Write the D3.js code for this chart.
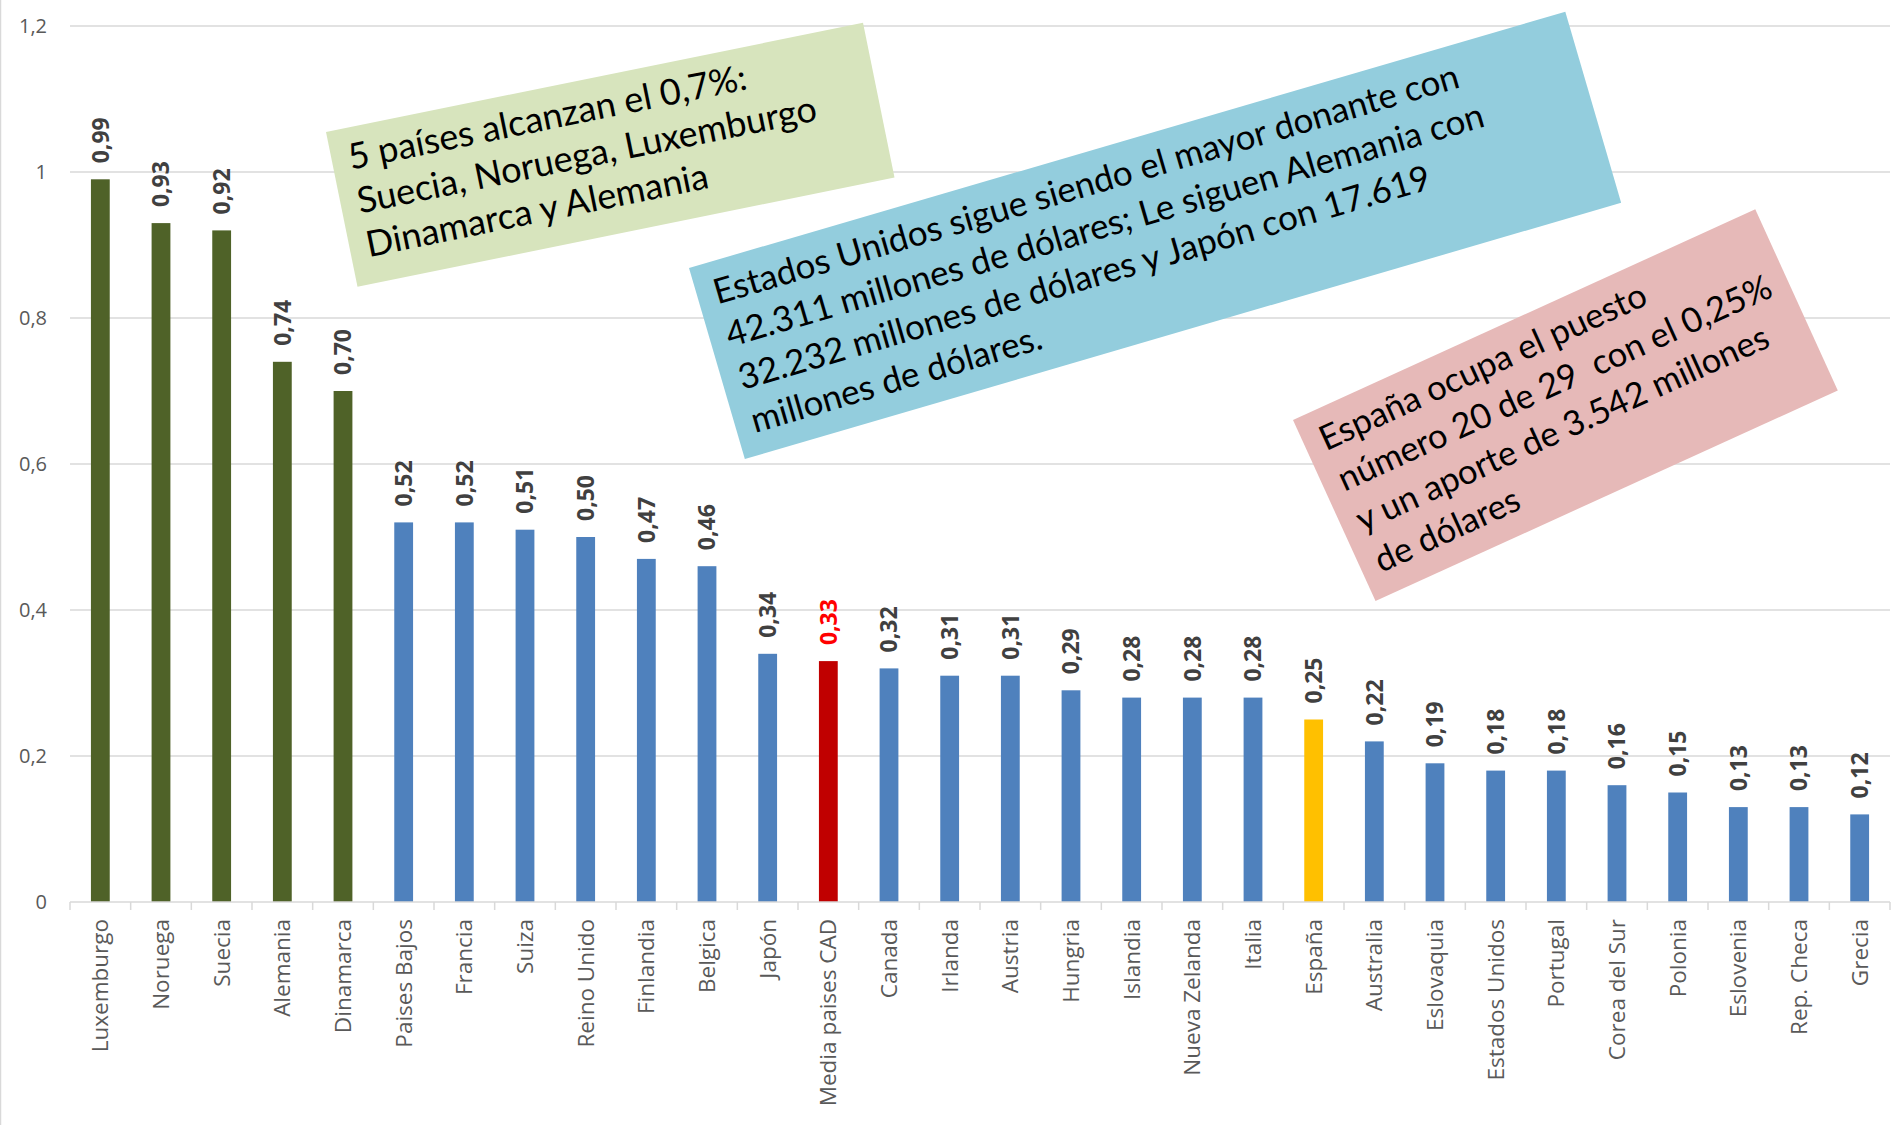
<!DOCTYPE html>
<html>
<head>
<meta charset="utf-8">
<script src="https://cdn.jsdelivr.net/npm/d3@7"></script>
<style>
  body { margin: 0; background: #fff; }
  svg { display: block; }
</style>
</head>
<body>
<div id="chart"></div>
<script>
// Chart data
var countries = ["Luxemburgo", "Noruega", "Suecia", "Alemania", "Dinamarca", "Paises Bajos", "Francia",
                 "Suiza", "Reino Unido", "Finlandia", "Belgica", "Japón", "Media paises CAD", "Canada",
                 "Irlanda", "Austria", "Hungria", "Islandia", "Nueva Zelanda", "Italia", "España",
                 "Australia", "Eslovaquia", "Estados Unidos", "Portugal", "Corea del Sur", "Polonia",
                 "Eslovenia", "Rep. Checa", "Grecia"];
var aodShare  = [0.99, 0.93, 0.92, 0.74, 0.70, 0.52, 0.52, 0.51, 0.50, 0.47, 0.46, 0.34, 0.33, 0.32,
                 0.31, 0.31, 0.29, 0.28, 0.28, 0.28, 0.25, 0.22, 0.19, 0.18, 0.18, 0.16, 0.15, 0.13,
                 0.13, 0.12];
// Bar group: "top" = reached 0,7%, "avg" = CAD average, "spain", otherwise "other"
var barGroup  = ["top", "top", "top", "top", "top", "other", "other", "other", "other", "other", "other",
                 "other", "avg", "other", "other", "other", "other", "other", "other", "other", "spain",
                 "other", "other", "other", "other", "other", "other", "other", "other", "other"];
var yTicks    = [0, 0.2, 0.4, 0.6, 0.8, 1, 1.2];

// Annotation notes
var noteGreen = ["5 países alcanzan el 0,7%:", "Suecia, Noruega, Luxemburgo", "Dinamarca y Alemania"];
var noteBlue  = ["Estados Unidos sigue siendo el mayor donante con",
                 "42.311 millones de dólares; Le siguen Alemania con",
                 "32.232 millones de dólares y Japón con 17.619",
                 "millones de dólares."];
var notePink  = ["España ocupa el puesto", "número 20 de 29  con el 0,25%",
                 "y un aporte de 3.542 millones", "de dólares"];

var width = 1895, height = 1125;
var colors = { top: "#4F6228", other: "#4F81BD", avg: "#C00000", spain: "#FFC000" };
var gridColor = "#D9D9D9";

function comma(s) { return s.replace(".", ","); }

var svg = d3.select("#chart").append("svg")
  .attr("width", width)
  .attr("height", height);

// chart border (only left side shows)
svg.append("line")
  .attr("x1", 0.5).attr("x2", 0.5).attr("y1", 0).attr("y2", height)
  .style("stroke", gridColor).style("stroke-width", 1.5);

var x = d3.scaleBand()
  .domain(countries)
  .range([70, 1890])
  .paddingInner(0.69)
  .paddingOuter(0.345);

var y = d3.scaleLinear()
  .domain([0, 1.2])
  .range([902, 26]);

// gridlines
svg.append("g")
  .selectAll("line")
  .data(yTicks.filter(function(d) { return d > 0; }))
  .enter().append("line")
    .attr("x1", 70).attr("x2", 1890)
    .attr("y1", function(d) { return y(d); })
    .attr("y2", function(d) { return y(d); })
    .style("stroke", gridColor).style("stroke-width", 1.5);

// y axis labels
var yAxis = svg.append("g")
  .attr("transform", "translate(56,0)")
  .call(d3.axisLeft(y).tickValues(yTicks).tickSize(0).tickPadding(9)
          .tickFormat(function(d) { return comma(String(d)); }));
yAxis.select(".domain").remove();
yAxis.selectAll("text")
  .style("font-family", "'Open Sans', sans-serif")
  .style("font-size", "20px")
  .style("fill", "#595959");

// bars
svg.append("g")
  .selectAll("rect")
  .data(countries)
  .enter().append("rect")
    .attr("x", function(d) { return x(d); })
    .attr("width", x.bandwidth())
    .attr("y", function(d, i) { return y(aodShare[i]); })
    .attr("height", function(d, i) { return y(0) - y(aodShare[i]); })
    .style("fill", function(d, i) { return colors[barGroup[i]]; });

// x axis: baseline + ticks at band edges
var xAxis = svg.append("g")
  .attr("transform", "translate(0," + y(0) + ")");
xAxis.append("line")
  .attr("x1", 70).attr("x2", 1890)
  .style("stroke", gridColor).style("stroke-width", 1.5);
xAxis.selectAll(".tick-mark")
  .data(d3.range(countries.length + 1))
  .enter().append("line")
    .attr("class", "tick-mark")
    .attr("x1", function(i) { return 70 + i * x.step(); })
    .attr("x2", function(i) { return 70 + i * x.step(); })
    .attr("y1", 0).attr("y2", 8)
    .style("stroke", gridColor).style("stroke-width", 1.5);

// category labels, rotated
svg.append("g")
  .selectAll("text")
  .data(countries)
  .enter().append("text")
    .attr("transform", function(d) {
      return "translate(" + (x(d) + x.bandwidth() / 2) + ",919) rotate(-90)";
    })
    .attr("dy", "0.36em")
    .attr("text-anchor", "end")
    .style("font-family", "'Open Sans', sans-serif")
    .style("font-size", "22.5px")
    .style("fill", "#595959")
    .text(function(d) { return d; });

// value labels, rotated
svg.append("g")
  .selectAll("text")
  .data(countries)
  .enter().append("text")
    .attr("transform", function(d, i) {
      return "translate(" + (x(d) + x.bandwidth() / 2) + "," + (y(aodShare[i]) - 16) + ") rotate(-90)";
    })
    .attr("dy", "0.36em")
    .attr("text-anchor", "start")
    .style("font-family", "'Open Sans', sans-serif")
    .style("font-size", "23px")
    .style("font-weight", "bold")
    .style("fill", function(d, i) { return barGroup[i] === "avg" ? "#FF0000" : "#404040"; })
    .text(function(d, i) { return comma(aodShare[i].toFixed(2)); });

// rotated annotation boxes
function note(lines, fill, left, top, angle, w, h, firstLine, size) {
  var g = svg.append("g")
    .attr("transform", "translate(" + left + "," + top + ") rotate(" + angle + ")");
  g.append("rect")
    .attr("width", w).attr("height", h)
    .style("fill", fill);
  g.selectAll("text")
    .data(lines)
    .enter().append("text")
      .attr("x", 17)
      .attr("y", function(d, i) { return firstLine + i * 44.6; })
      .style("font-family", "Lato, sans-serif")
      .style("font-size", size + "px")
      .style("fill", "#000")
      .style("white-space", "pre")
      .text(function(d) { return d; });
}

note(noteGreen, "#D7E4BD", 326, 132, -11.5, 548, 158, 42, 36);
note(noteBlue,  "#93CDDD", 689, 268, -16.3, 913, 199, 43, 35);
note(notePink,  "#E6B9B8", 1293, 420, -24.5, 508, 199, 42, 34.5);
</script>
</body>
</html>
